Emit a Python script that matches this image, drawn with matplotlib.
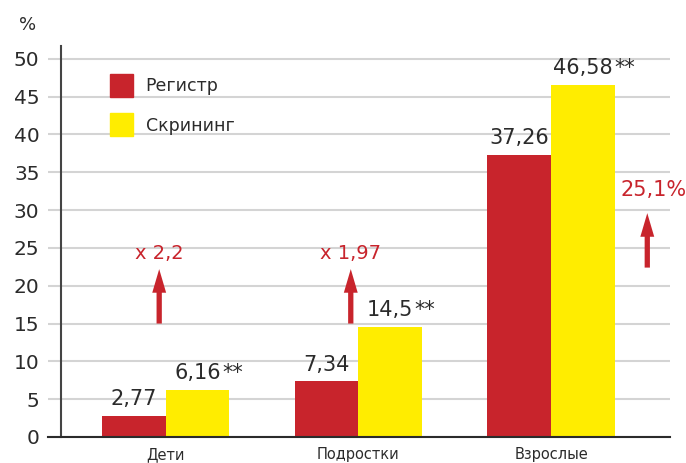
import matplotlib
matplotlib.use('Agg')
from matplotlib import pyplot as plt
from matplotlib.patches import Patch
import numpy as np

plt.rcParams['font.family'] = ['DejaVu Sans']

categories = ['Дети', 'Подростки', 'Взрослые']
register = [2.77, 7.34, 37.26]
screening = [6.16, 14.5, 46.58]
register_labels = ['2,77', '7,34', '37,26']
screening_labels = ['6,16', '14,5', '46,58']
growth_labels = ['x 2,2', 'x 1,97', '25,1%']
series_names = ['Регистр', 'Скрининг']

red = '#c8242c'
yellow = '#ffed00'
grid_col = '#d4d4d4'
dark = '#2b2b2b'

fig = plt.figure(figsize=(6.86, 4.63), dpi=100)
ax = fig.add_axes([61 / 686, 26 / 463, 609 / 686, 391 / 463])

x = np.arange(len(categories))
w = 0.33
ax.bar(x - w / 2, register, w, color=red, zorder=3)
ax.bar(x + w / 2, screening, w, color=yellow, zorder=3)

ax.set_xlim(-0.545, 2.618)
ax.set_ylim(0, 51.7)
ax.set_yticks(range(0, 51, 5))
ax.yaxis.grid(True, color=grid_col, linewidth=1.5, zorder=0)
ax.tick_params(axis='y', length=9.5, width=1.5, color=grid_col, labelsize=14.5,
               pad=6, labelcolor=dark)
ax.set_xticks(x)
ax.set_xticklabels(categories, fontsize=10.5, color=dark)
ax.tick_params(axis='x', length=0, pad=7.5)

for s in ['top', 'right', 'bottom']:
    ax.spines[s].set_visible(False)
ax.spines['left'].set_color('#444444')
ax.spines['left'].set_linewidth(1.5)
ax.plot([-0.022, 1], [0, 0], color=dark, linewidth=1.5,
        transform=ax.get_yaxis_transform(), clip_on=False, zorder=5)

# value labels
for i in range(len(categories)):
    ax.annotate(register_labels[i], (x[i] - w / 2, register[i]), xytext=(0, 5),
                textcoords='offset points', ha='center', va='bottom',
                fontsize=15, color=dark)
    t = ax.annotate(screening_labels[i], (x[i] + w / 2, screening[i]), xytext=(0, 5),
                    textcoords='offset points', ha='center', va='bottom',
                    fontsize=15, color=dark)
    ax.annotate('**', xy=(1, 0), xycoords=t, xytext=(1, 0), textcoords='offset points',
                ha='left', va='bottom', fontsize=15, color=dark)

# growth arrows
arrow_x = [-0.035, 0.96, 2.5]
arrow_y = [(15, 22.2), (15, 22.2), (22.4, 29.6)]
label_y = [24.2, 24.2, 32.7]
label_size = [14, 14, 15]
label_dx = [0, 0, 0.035]
for i in range(len(categories)):
    ax.annotate('', xy=(arrow_x[i], arrow_y[i][1]), xytext=(arrow_x[i], arrow_y[i][0]),
                arrowprops=dict(arrowstyle='simple,head_length=1.7,head_width=1.0,tail_width=0.38',
                                color=red, lw=0, shrinkA=0, shrinkB=0, mutation_scale=10),
                zorder=4)
    ax.text(arrow_x[i] + label_dx[i], label_y[i], growth_labels[i], ha='center', va='center',
            fontsize=label_size[i], color=red)

fig.text(28 / 686, 1 - 25 / 463, '%', fontsize=13, color=dark, ha='center', va='center')

handles = [Patch(color=red), Patch(color=yellow)]
ax.legend(handles, series_names, loc='upper left', bbox_to_anchor=(110 / 686, 1 - 74 / 463),
          bbox_transform=fig.transFigure, frameon=False, fontsize=12.5, borderpad=0,
          borderaxespad=0, handlelength=1.35, handleheight=1.66, handletextpad=0.7,
          labelspacing=0.95, labelcolor=dark)

plt.savefig('out.png', dpi=100)
